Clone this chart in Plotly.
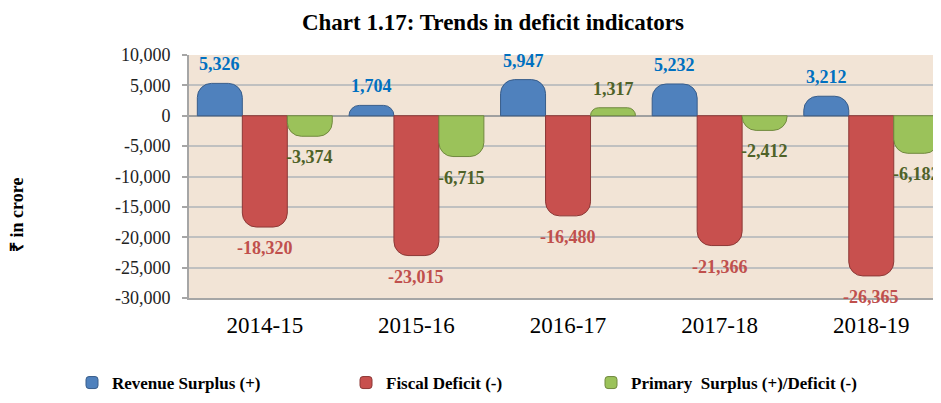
import plotly.graph_objects as go

categories = ["2014-15", "2015-16", "2016-17", "2017-18", "2018-19"]
revenue_surplus = [5326, 1704, 5947, 5232, 3212]
fiscal_deficit = [-18320, -23015, -16480, -21366, -26365]
primary_balance = [-3374, -6715, 1317, -2412, -6182]
series_names = ["Revenue Surplus (+)", "Fiscal Deficit (-)", "Primary  Surplus (+)/Deficit (-)"]
y_tick_vals = [10000, 5000, 0, -5000, -10000, -15000, -20000, -25000, -30000]
y_tick_text = ["10,000", "5,000", "0", "-5,000", "-10,000", "-15,000", "-20,000", "-25,000", "-30,000"]

series = [revenue_surplus, fiscal_deficit, primary_balance]
bar_colors = ["#4F81BD", "#C8504E", "#9BC25A"]
line_colors = ["#385D8A", "#8C3836", "#71893F"]
label_colors = ["#0070C0", "#C0504D", "#4F6228"]
legend_ids = ["legend", "legend2", "legend3"]
SERIF = "Liberation Serif, Times New Roman, serif"

# the page body adds an 8px offset; figure is sized to end at the window edge
OFF = 8
W, H = 941 - OFF, 403 - OFF
legend_x_px = [72, 346, 591]

fig = go.Figure()
for name, vals, c, lc, lg in zip(series_names, series, bar_colors, line_colors, legend_ids):
    fig.add_trace(go.Bar(
        x=categories, y=vals, name=name, legend=lg,
        marker=dict(color=c, line=dict(color=lc, width=1), cornerradius=14),
    ))

# data labels
bar_px = 45
for i, (vals, col) in enumerate(zip(series, label_colors)):
    for cat, v in zip(categories, vals):
        fig.add_annotation(
            x=cat, y=v, xref="x", yref="y", text=f"{v:,}", showarrow=False,
            xshift=(i - 1) * bar_px, yshift=19 if v > 0 else -21,
            font=dict(family=SERIF, size=18, color=col, weight="bold"),
        )

fig.add_annotation(
    text="₹ in crore", xref="paper", yref="paper", x=-0.228, xanchor="center",
    y=0.34, yanchor="middle", textangle=-90, showarrow=False,
    font=dict(family=SERIF, size=18, color="#000000", weight="bold"),
)

legend_font = dict(family=SERIF, size=17, color="#000000", weight="bold")
legend_layout = {}
for lg, xpx in zip(legend_ids, legend_x_px):
    legend_layout[lg] = dict(
        orientation="h", xref="container", yref="container",
        x=(xpx - OFF) / W, xanchor="left", y=1 - (383 - OFF) / H, yanchor="middle",
        itemwidth=30, font=legend_font, bgcolor="rgba(0,0,0,0)",
    )

fig.update_layout(
    width=W, height=H,
    margin=dict(l=189 - OFF, r=0, t=55 - OFF, b=H - (298 - OFF), autoexpand=False),
    paper_bgcolor="white", plot_bgcolor="#F2E4D6",
    barmode="group", bargap=0.11, bargroupgap=0,
    title=dict(text="<b>Chart 1.17: Trends in deficit indicators</b>",
               x=(493 - OFF) / W, xanchor="center", y=1 - (22 - OFF) / H, yanchor="middle",
               font=dict(family=SERIF, size=23, color="#000000")),
    showlegend=True,
    **legend_layout,
)
fig.update_xaxes(
    range=[-0.5, 4.46], showgrid=False, showline=True, linecolor="#A6A6A6", linewidth=2,
    ticks="", ticklabelstandoff=5, automargin=False,
    tickfont=dict(family=SERIF, size=23, color="#000000"),
)
fig.update_yaxes(
    range=[-30000, 10000], tickvals=y_tick_vals, ticktext=y_tick_text,
    showgrid=True, gridcolor="#C0C0C0", gridwidth=2,
    zeroline=True, zerolinecolor="#A0A0A0", zerolinewidth=2,
    showline=True, linecolor="#A6A6A6", linewidth=2, automargin=False,
    ticks="outside", ticklen=5, tickcolor="#A6A6A6", tickwidth=2, ticklabelstandoff=8,
    tickfont=dict(family=SERIF, size=18, color="#222222"),
)

fig.write_html("out.html")
